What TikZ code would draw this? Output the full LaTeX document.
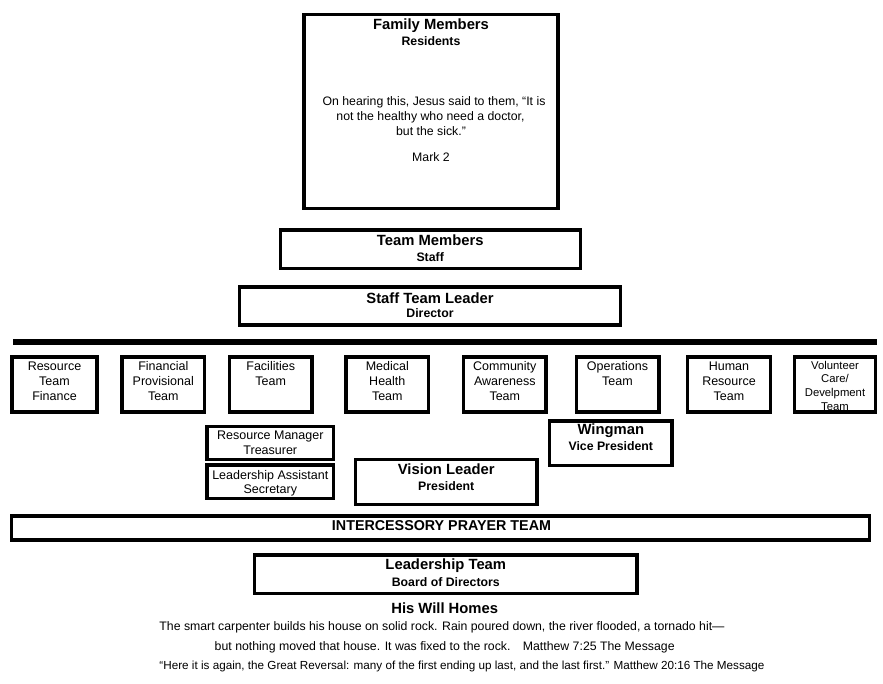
\documentclass[tikz,border=0pt]{standalone}
\usepackage{fontspec}
\setmainfont{Liberation Sans}
\begin{document}
\begin{tikzpicture}[x=1pt,y=-1pt,
  box/.style={draw, line width=3.4pt, inner sep=0pt},
  txt/.style={inner sep=0pt, anchor=base},
  ttl/.style={txt, font=\bfseries\fontsize{14.8}{16}\selectfont},
  sub/.style={txt, font=\bfseries\fontsize{12.3}{14}\selectfont},
  sm/.style={txt, font=\fontsize{12.5}{15}\selectfont},
  tiny/.style={txt, font=\fontsize{11.3}{13}\selectfont},
  foot/.style={txt, font=\fontsize{12.3}{14}\selectfont}]
\useasboundingbox (0,0) rectangle (883,683);
% boxes (centre lines)
\node[box, minimum width=254pt, minimum height=194pt] (fam) at (431,111.3) {};
\node[box, minimum width=300pt, minimum height=38.7pt] (tm) at (430.2,249.3) {};
\node[box, minimum width=381pt, minimum height=38pt] (stl) at (430,306) {};
\coordinate (barL) at (13,342);
\coordinate (barR) at (877,342);
\draw[line width=5.2pt] (barL) -- (barR);
\node[box, minimum width=85pt, minimum height=55pt] (b1) at (54.5,384.5) {};
\foreach \n/\cx in {b2/163.3, b3/270.7, b4/387.3, b5/504.8, b6/617.5, b7/729}
  \node[box, minimum width=82.6pt, minimum height=55pt] (\n) at (\cx,384.5) {};
\node[box, minimum width=80.6pt, minimum height=55pt] (b8) at (835,384.5) {};
\node[box, minimum width=126.7pt, minimum height=33.4pt] (rm) at (270.3,443) {};
\node[box, minimum width=126.7pt, minimum height=33.7pt] (la) at (270.3,481.9) {};
\node[box, minimum width=181.7pt, minimum height=44.6pt] (vl) at (446.2,482) {};
\node[box, minimum width=122.3pt, minimum height=44.3pt, fill=white] (wm) at (610.8,443.2) {};
\node[box, minimum width=858pt, minimum height=24pt] (ipt) at (440.4,528) {};
\node[box, minimum width=382.3pt, minimum height=38.3pt] (lt) at (445.8,574.2) {};
% texts
\node[ttl] (famT) at (431,29) {Family Members};
\node[sub] (famS) at (431,45.5) {Residents};
\node[foot] (famQ1) at (434,105) {On hearing this, Jesus said to them, “It is};
\node[foot] (famQ2) at (430.5,120.6) {not the healthy who need a doctor,};
\node[foot] (famQ3) at (431,135.6) {but the sick.”};
\node[foot] (famM) at (431,161) {Mark 2};
\node[ttl] (tmT) at (430.2,245.6) {Team Members};
\node[sub] (tmS) at (430.2,261.5) {Staff};
\node[ttl] (stlT) at (430,303.3) {Staff Team Leader};
\node[sub] (stlS) at (430,317.5) {Director};
\foreach \n/\cx/\a/\b/\c in {b1/54.5/Resource/Team/Finance, b2/163.3/Financial/Provisional/Team,
   b4/387.3/Medical/Health/Team, b5/504.8/Community/Awareness/Team, b7/729/Human/Resource/Team}{
  \node[sm] (\n a) at (\cx,370) {\a};
  \node[sm] (\n b) at (\cx,385.6) {\b};
  \node[sm] (\n c) at (\cx,400.6) {\c};
}
\node[sm] (b3a) at (270.7,370) {Facilities};
\node[sm] (b3b) at (270.7,385.6) {Team};
\node[sm] (b6a) at (617.5,370) {Operations};
\node[sm] (b6b) at (617.5,385.6) {Team};
\node[tiny] (b8a) at (835,369) {Volunteer};
\node[tiny] (b8b) at (835,382.5) {Care/};
\node[tiny] (b8c) at (835,396) {Develpment};
\node[tiny] (b8d) at (835,410) {Team};
\node[sm] (rma) at (270.3,439.5) {Resource Manager};
\node[sm] (rmb) at (270.3,454.5) {Treasurer};
\node[sm] (laa) at (270.3,479.5) {Leadership Assistant};
\node[sm] (lab) at (270.3,493.5) {Secretary};
\node[ttl] (vlT) at (446.2,474.3) {Vision Leader};
\node[sub] (vlS) at (446.2,490.5) {President};
\node[ttl] (wmT) at (610.8,434.3) {Wingman};
\node[sub] (wmS) at (610.8,450.3) {Vice President};
\node[ttl, font=\bfseries\fontsize{14.3}{16}\selectfont] (iptT) at (441.5,530.5) {INTERCESSORY PRAYER TEAM};
\node[ttl] (ltT) at (445.8,569.8) {Leadership Team};
\node[sub] (ltS) at (445.8,586.3) {Board of Directors};
\node[ttl] (hwh) at (444.7,613.8) {His Will Homes};
\node[foot] (f1) at (442,630.6) {The smart carpenter builds his house on solid rock. Rain poured down, the river flooded, a tornado hit—};
\node[foot] (f2) at (444.7,650.6) {but nothing moved that house. It was fixed to the rock.\quad Matthew 7:25 The Message};
\node[foot, font=\fontsize{11.7}{14}\selectfont] (f3) at (462,669.2) {“Here it is again, the Great Reversal: many of the first ending up last, and the last first.” Matthew 20:16 The Message};
\end{tikzpicture}
\end{document}
